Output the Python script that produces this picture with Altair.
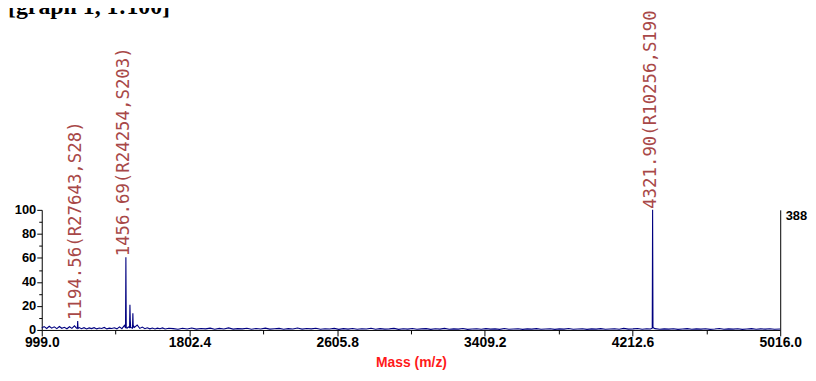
import altair as alt
import pandas as pd

# ---------------- data ----------------
x_major = [999.0, 1802.4, 2605.8, 3409.2, 4212.6, 5016.0]
x_minor = [1400.7, 2204.1, 3007.5, 3810.9, 4614.3]
y_major = [0, 20, 40, 60, 80, 100]
y_minor = [10, 30, 50, 70, 90]
max_counts = [388]

peak_mass = [1194.56, 1456.69, 4321.90]
peak_height = [7.5, 60.5, 100.0]
peak_label = ["1194.56(R27643,S28)", "1456.69(R24254,S203)", "4321.90(R10256,S190)"]

# spectrum points: (mass, relative intensity %)
peaks = [
    (1192.6, 1.5), (1194.56, 7.5), (1196.5, 1.2),
    (1454.7, 1.5), (1456.69, 60.5), (1458.7, 2.0),
    (1476.7, 2.0), (1478.7, 21.0), (1480.7, 8.0), (1482.7, 2.0),
    (1492.7, 1.5), (1494.7, 14.0), (1496.7, 2.0), (1500.0, 3.0),
    (4319.9, 1.5), (4321.9, 100.0), (4323.9, 2.0),
]
noise = [
    (999, 1.6), (1012, 2.8), (1026, 1.2), (1040, 3.1), (1053, 1.5), (1067, 2.6), (1081, 1.1),
    (1095, 2.9), (1108, 1.4), (1122, 2.2), (1136, 1.0), (1150, 2.7), (1163, 1.3), (1177, 3.4),
    (1188, 1.5), (1203, 2.0), (1215, 1.0), (1229, 1.9), (1243, 0.8), (1257, 1.7), (1270, 1.1),
    (1284, 1.9), (1298, 0.9), (1312, 1.6), (1325, 1.2), (1339, 2.1), (1353, 0.9), (1367, 1.5),
    (1380, 1.2), (1394, 1.8), (1408, 0.9), (1422, 2.6), (1435, 1.1), (1449, 3.8), (1463, 1.4),
    (1470, 2.5), (1487, 1.8), (1503, 2.2), (1518, 4.1), (1532, 1.3), (1546, 2.4), (1560, 1.0),
    (1573, 1.8), (1587, 0.9), (1601, 1.6), (1615, 0.8), (1628, 1.5), (1642, 1.0), (1656, 1.7),
    (1670, 0.8), (1690, 1.4),
    (1715, 1.1), (1740, 0.6), (1765, 1.4), (1790, 0.8), (1815, 1.6), (1840, 0.7), (1865, 1.2),
    (1890, 0.9), (1915, 1.5), (1940, 0.6), (1965, 1.3), (1990, 0.8), (2015, 1.7), (2040, 0.7),
    (2065, 1.1), (2090, 0.9), (2115, 1.4), (2140, 0.6), (2165, 1.2), (2190, 0.8), (2215, 1.5),
    (2240, 0.7), (2265, 1.0), (2290, 1.3), (2315, 0.6), (2340, 1.1), (2365, 0.8), (2390, 1.6),
    (2415, 0.7), (2440, 1.2), (2465, 0.9), (2490, 1.4), (2515, 0.6), (2540, 1.0), (2565, 0.8),
    (2590, 1.3), (2615, 0.5), (2640, 1.1), (2665, 0.7), (2690, 1.2), (2715, 0.6), (2740, 1.0),
    (2765, 0.8), (2790, 1.4), (2815, 0.6), (2840, 1.1), (2865, 0.7), (2890, 0.9), (2915, 1.3),
    (2940, 0.5), (2965, 1.0), (2990, 0.7), (3015, 1.2), (3040, 0.6), (3065, 0.9), (3090, 1.1),
    (3115, 0.5), (3140, 1.0), (3165, 0.7), (3190, 1.3), (3215, 0.6), (3240, 0.9), (3265, 0.7),
    (3290, 1.2), (3315, 0.5), (3340, 0.8), (3365, 1.0), (3390, 0.6), (3415, 1.1), (3440, 0.7),
    (3465, 0.9), (3490, 0.5), (3515, 1.2), (3540, 0.6), (3565, 0.8), (3590, 1.0), (3615, 0.5),
    (3640, 0.9), (3665, 0.7), (3690, 1.1), (3715, 0.6), (3740, 0.8), (3765, 1.0), (3790, 0.5),
    (3815, 0.9), (3840, 0.7), (3865, 1.2), (3890, 0.6), (3915, 0.8), (3940, 1.0), (3965, 0.5),
    (3990, 0.9), (4015, 0.7), (4040, 1.1), (4065, 0.6), (4090, 0.8), (4115, 1.0), (4140, 0.6),
    (4165, 1.3), (4190, 0.7), (4215, 0.9), (4240, 1.2), (4265, 0.6), (4290, 1.0), (4310, 0.8),
    (4335, 1.1), (4360, 0.6), (4385, 0.9), (4410, 0.7), (4435, 1.0), (4460, 0.5), (4485, 0.8),
    (4510, 1.1), (4535, 0.6), (4560, 0.9), (4585, 0.7), (4610, 1.0), (4635, 0.5), (4660, 0.8),
    (4685, 1.2), (4710, 0.6), (4735, 0.9), (4760, 0.7), (4785, 1.0), (4810, 0.5), (4835, 0.8),
    (4860, 1.1), (4885, 0.6), (4910, 0.9), (4935, 0.7), (4960, 1.0), (4985, 0.6), (5016, 0.8),
]
header_text = ["[graph 1, 1:100]"]

# ---------------- build ----------------
pts = sorted(noise + peaks)
spec_df = pd.DataFrame({"mass": [p[0] for p in pts], "intensity": [p[1] for p in pts]})
lab_df = pd.DataFrame({"mass": peak_mass, "height": peak_height, "label": peak_label})

FONT = "Liberation Sans"
x_scale = alt.Scale(domain=[999.0, 5016.0], nice=False, zero=False)
y_scale = alt.Scale(domain=[0, 100], nice=False)

x_major_str = "[" + ",".join(str(v) for v in x_major) + "]"
x_axis = alt.Axis(
    values=sorted(x_major + x_minor),
    format=".1f",
    labelExpr=f"indexof({x_major_str}, datum.value) >= 0 ? datum.label : ''",
    tickSize={"condition": {"test": f"indexof({x_major_str}, datum.value) >= 0", "value": 6}, "value": 4},
    labelOverlap=False, labelFlush=False,
    labelFont=FONT, labelFontSize=14, labelFontWeight="bold", labelColor="black",
    labelPadding=0,
    domainColor="black", tickColor="black", grid=False,
    title="Mass (m/z)", titleColor="#ff1a1a", titleFont=FONT, titleFontSize=14,
    titleFontWeight="bold", titlePadding=6,
)
y_axis = alt.Axis(
    values=sorted(y_major + y_minor),
    labelExpr="datum.value % 20 == 0 ? datum.label : ''",
    tickSize={"condition": {"test": "datum.value % 20 == 0", "value": 5}, "value": 3},
    labelOverlap=False, labelFlush=False,
    labelFont=FONT, labelFontSize=13, labelFontWeight="bold", labelColor="black",
    labelPadding=1,
    domainColor="black", tickColor="black", grid=False, title=None,
)

spectrum = alt.Chart(spec_df).mark_line(color="#000080", strokeWidth=1.1).encode(
    x=alt.X("mass:Q", scale=x_scale, axis=x_axis),
    y=alt.Y("intensity:Q", scale=y_scale, axis=y_axis),
)

labels = alt.Chart(lab_df).mark_text(
    angle=270, align="left", baseline="middle", font="DejaVu Sans Mono",
    fontSize=17.5, color="#a84848", dy=-2, dx=1,
).encode(
    x=alt.X("mass:Q", scale=x_scale, axis=x_axis),
    y=alt.Y("height:Q", scale=y_scale, axis=y_axis),
    text="label:N",
)

header = alt.Chart(pd.DataFrame({"t": header_text})).mark_text(
    align="left", baseline="alphabetic", font="Liberation Serif", fontSize=24,
    fontWeight="bold", color="black",
).encode(text="t:N", x=alt.value(-34), y=alt.value(-197))

right = alt.Chart(pd.DataFrame({"c": max_counts})).mark_rule(opacity=0).encode(
    y=alt.Y("c:Q", scale=alt.Scale(domain=[0, 388], nice=False),
            axis=alt.Axis(orient="right", values=max_counts, tickSize=0, labelPadding=5,
                          labelBaseline="top", labelFont=FONT, labelFontSize=13,
                          labelFontWeight="bold", labelColor="black", domainColor="black",
                          labelOverlap=False, labelFlush=False, grid=False, title=None))
)

chart = alt.layer(alt.layer(spectrum, labels, header), right).resolve_scale(
    y="independent"
).properties(
    width=744, height=121,
    autosize=alt.AutoSizeParams(type="none"),
    padding={"left": 34, "top": 202, "right": 28, "bottom": 42},
).configure_view(stroke=None).configure_axis(labelOverlap=False)

chart.save("out.html", embed_options={"renderer": "svg", "actions": False})
